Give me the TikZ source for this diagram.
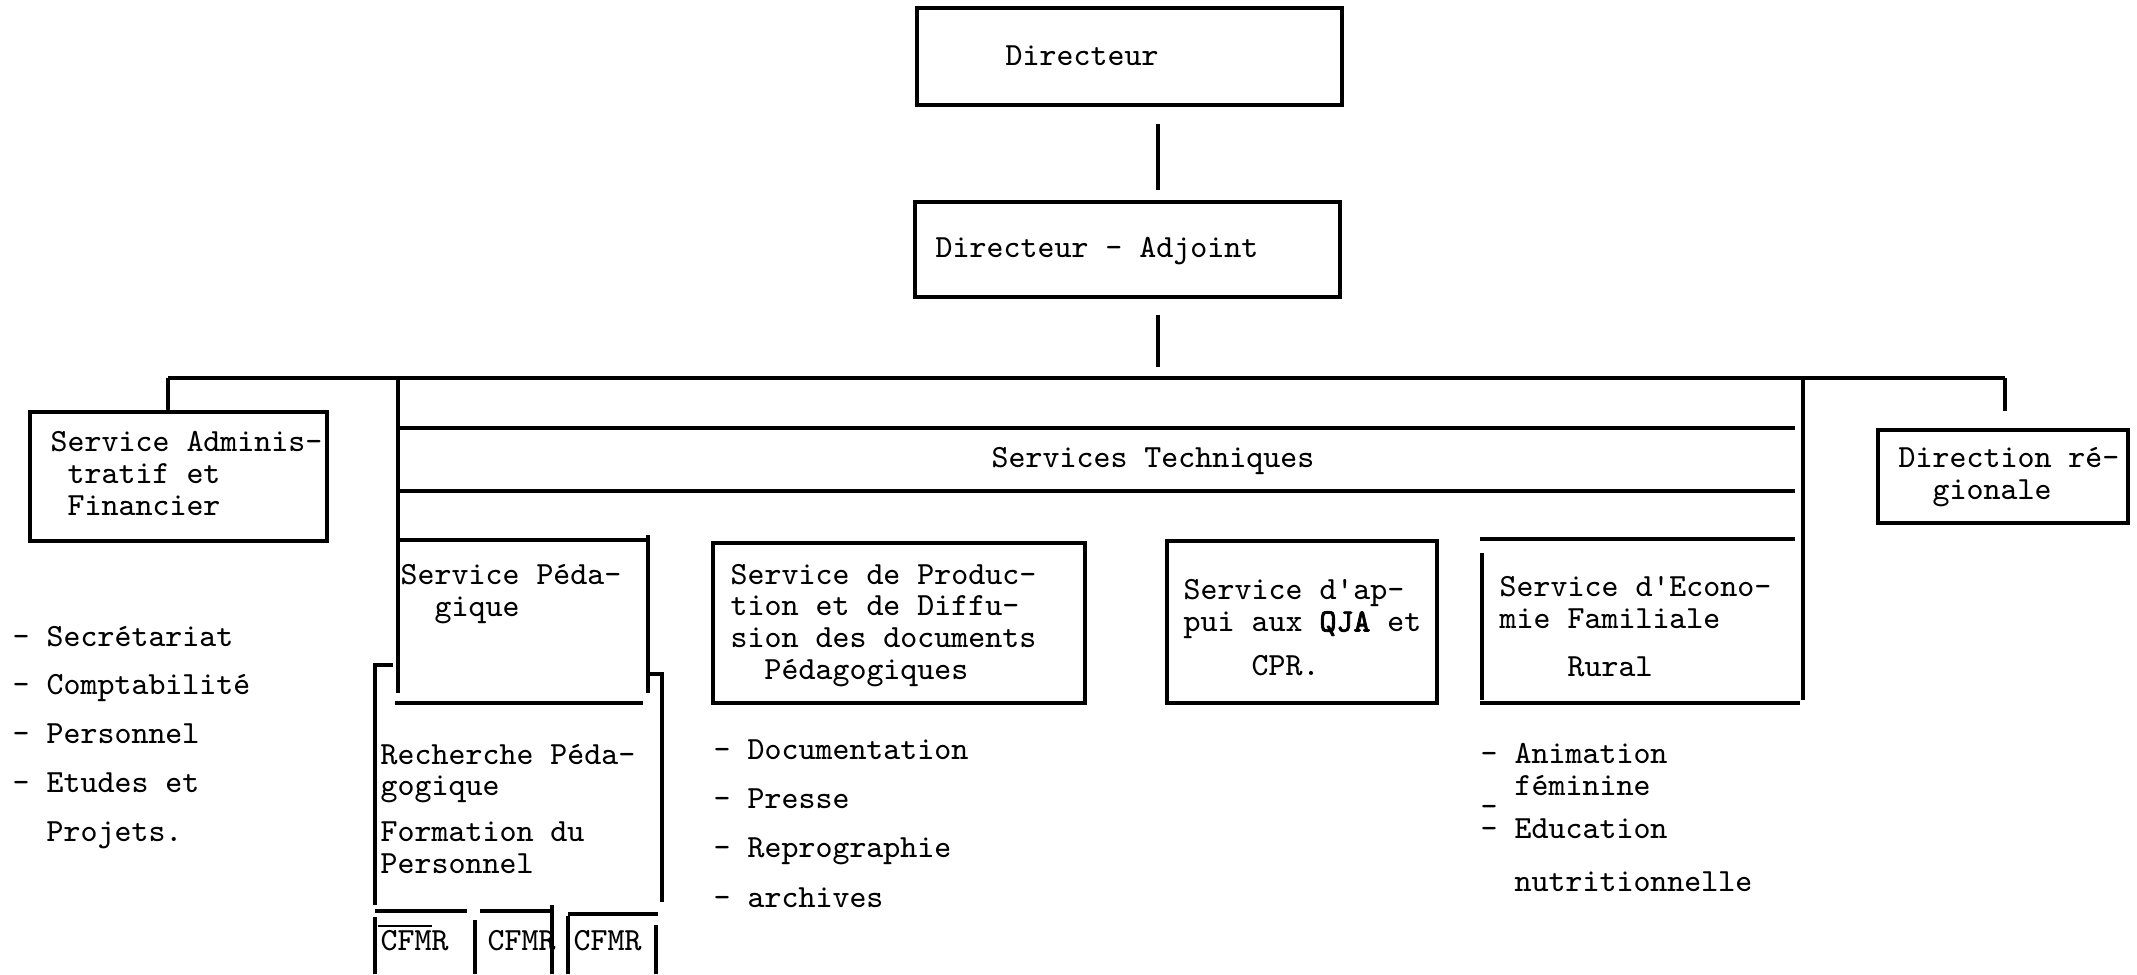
\documentclass[tikz,border=0pt]{standalone}
\usepackage{fontspec}
\usepackage{tikz}
\newfontfamily\ttheavy{lmmono10-regular.otf}[FakeBold=2.5]
\newcommand{\tw}{\fontsize{9.2}{9}\selectfont\ttfamily}
\newcommand{\twl}{\fontsize{9.2}{14}\selectfont\ttfamily}
\tikzset{
	link/.style = {line width=1.25pt},
	box/.style = {draw, line width=1.25pt, inner sep=0pt},
	txt/.style = {anchor=base west, inner sep=0pt, align=left, font=\tw},
	lst/.style = {anchor=base west, inner sep=0pt, align=left, font=\twl}
}

\begin{document}
\begin{tikzpicture} [x = 0.1mm, y = -0.1mm]
	\fill [white] (0,0) rectangle (2137,974);
	\useasboundingbox (0,0) rectangle (2137,974);
	% direction
	\node [box, minimum width = 42.5mm, minimum height = 9.7mm] (dir) at (1129.5,56.5) {};
	\node [box, minimum width = 42.5mm, minimum height = 9.5mm] (adj) at (1127.5,249.5) {};
	\node [txt] (dirtxt) at (1005,65) {Directeur};
	\node [txt] (adjtxt) at (935,257) {Directeur - Adjoint};
	\coordinate (cl) at (1158,0);
	\coordinate (busl) at (168,378);
	\coordinate (busr) at (2005,378);
	\draw [link, shorten <= 1.7mm, shorten >= 1mm] (dir.south -| cl) -- (adj.north -| cl);
	\draw [link, shorten <= 1.6mm, shorten >= 1.1mm] (adj.south -| cl) -- (busl -| cl);
	\draw [link] (busl) -- (busr);
	% administration et direction regionale
	\node [box, minimum width = 29.7mm, minimum height = 12.9mm] (adm) at (178.5,476.5) {};
	\node [box, minimum width = 25mm, minimum height = 9.3mm] (dreg) at (2003,476.5) {};
	\draw [link] (busl) -- (adm.north -| busl);
	\draw [link, shorten >= 1.7mm] (busr) -- (dreg.north -| busr);
	% (base = last line)
	\node [txt] (admtxt) at (50,515) {Service Adminis-\\~tratif et\\~Financier};
	\node [txt] (dregtxt) at (1898,499) {Direction r\'e-\\~~gionale};
	\node [lst, font = \fontsize{9.2}{13.85}\selectfont\ttfamily] (admlst) at (12,841) {- Secr\'etariat\\- Comptabilit\'e\\- Personnel\\- Etudes et\\~~Projets.};
	% services techniques
	\coordinate (stl) at (398,378);
	\coordinate (str) at (1803,378);
	\draw [link] (stl) -- (398,693);
	\draw [link] (str) -- (1803,700);
	\draw [link] (398,428) -- (1795,428);
	\draw [link] (398,491) -- (1795,491);
	\node [txt] (sttxt) at (991,467) {Services Techniques};
	% service pedagogique
	\draw [link] (398,540) -- (648,540);
	\draw [link] (648,535) -- (648,693);
	\draw [link] (395,703) -- (643,703);
	\draw [link] (393,665) -- (375,665) -- (375,905);
	\draw [link] (648,674) -- (662,674) -- (662,902);
	\node [txt] (sptxt) at (400,616) {Service P\'eda-\\~~gique};
	\node [txt] (rechtxt) at (380,873) {Recherche P\'eda-\\gogique\\[4pt]Formation du\\Personnel};
	\draw [link] (375,911) -- (467,911);
	\draw [link] (480,911) -- (552,911);
	\draw [link] (568,914) -- (658,914);
	\draw [link] (375,917) -- (375,974);
	\draw [link] (475,920) -- (475,974);
	\draw [link] (552,905) -- (552,974);
	\draw [link] (568,916) -- (568,974);
	\draw [link] (656,925) -- (656,974);
	\draw [line width = 0.8pt] (378,926) -- (432,926);
	\node [txt] (cf1) at (380,950) {CFMR};
	\node [txt] (cf2) at (487,950) {CFMR};
	\node [txt] (cf3) at (573,950) {CFMR};
	% production
	\node [box, minimum width = 37.2mm, minimum height = 16mm] (prod) at (899,623) {};
	\node [txt] (prodtxt) at (730,679) {Service de Produc-\\tion et de Diffu-\\sion des documents\\~~P\'edagogiques};
	\node [lst] (prodlst) at (713,907) {- Documentation\\- Presse\\- Reprographie\\- archives};
	% appui
	\node [box, minimum width = 27mm, minimum height = 16.2mm] (appui) at (1302,622) {};
	\node [txt] (apptxt) at (1183,675) {Service d'ap-\\pui aux {\ttheavy QJA} et\\[3.4pt]~~~~CPR.};
	% economie familiale
	\draw [link] (1480,539) -- (1795,539);
	\draw [link] (1482,553) -- (1482,700);
	\draw [link] (1480,703) -- (1800,703);
	\node [txt] (ecotxt) at (1499,676) {Service d'Econo-\\mie Familiale\\[4.5pt]~~~~Rural};
	\node [txt] (ecolst) at (1480,891) {- Animation\\~~f\'eminine\\[-3pt]-\\[-2.8pt]- Education\\[6pt]~~nutritionnelle};
\end{tikzpicture}
\end{document}
